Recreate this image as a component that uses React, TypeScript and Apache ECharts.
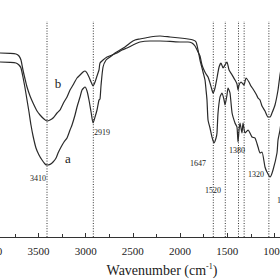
import React, { useEffect, useRef } from "react";
import * as echarts from "echarts";

// Wavenumber (cm-1) and transmittance (a.u.)
const WN_B = [4099, 3908, 3802, 3739, 3707, 3686, 3665, 3643, 3622, 3590, 3558, 3516, 3484, 3442, 3410, 3378, 3346, 3304, 3272, 3230, 3198, 3166, 3134, 3092, 3060, 3028, 3007, 2986, 2965, 2943, 2922, 2901, 2880, 2859, 2848, 2816, 2774, 2721, 2668, 2615, 2562, 2498, 2424, 2318, 2212, 2106, 2000, 1915, 1873, 1841, 1809, 1788, 1767, 1746, 1724, 1703, 1682, 1661, 1650, 1629, 1608, 1586, 1565, 1544, 1523, 1502, 1480, 1448, 1417, 1396, 1385, 1374, 1353, 1332, 1321, 1300, 1269, 1248, 1226, 1194, 1173, 1152, 1131, 1099, 1067, 1046, 1025, 993, 961, 940, 897];
const T_B = [92, 92, 91.8, 91.5, 90.5, 88.5, 83.5, 79, 75, 70.5, 67, 63, 61, 59, 58, 58.5, 59.5, 62, 63.5, 67.5, 70, 73.5, 76, 79.5, 81, 82.5, 83, 82, 80, 77.5, 75.5, 77.5, 80.5, 83.5, 87, 88.5, 90, 91, 92, 93.5, 94.5, 96, 97.5, 98, 98, 97.8, 97.5, 97.5, 97, 95.5, 92.5, 90.5, 86, 83.5, 81.5, 80, 77, 73.5, 72, 74.5, 79.5, 85, 87, 84.5, 86, 87.5, 83.5, 81, 78.5, 76.5, 73.5, 76, 77.5, 76.5, 76, 79.5, 77.5, 75.5, 74, 71.5, 69.5, 68.5, 65.5, 63, 60, 60, 62, 66, 73.5, 81, 93.5];

const WN_A = [4099, 3908, 3802, 3739, 3707, 3686, 3665, 3643, 3622, 3601, 3580, 3558, 3527, 3495, 3463, 3431, 3410, 3378, 3346, 3314, 3293, 3261, 3230, 3198, 3166, 3145, 3113, 3092, 3060, 3039, 3007, 2986, 2965, 2943, 2922, 2901, 2880, 2859, 2848, 2837, 2816, 2784, 2742, 2689, 2636, 2583, 2530, 2477, 2424, 2318, 2212, 2106, 2000, 1915, 1862, 1830, 1809, 1788, 1756, 1735, 1724, 1714, 1703, 1682, 1661, 1640, 1618, 1608, 1597, 1576, 1555, 1533, 1523, 1502, 1491, 1470, 1448, 1417, 1396, 1385, 1374, 1364, 1343, 1332, 1311, 1279, 1237, 1205, 1173, 1152, 1131, 1099, 1078, 1046, 1014, 972, 961, 940, 897];
const T_A = [87.5, 87.5, 87.3, 87, 86, 84.5, 80, 74.5, 68.5, 62.5, 56, 50.5, 44.5, 41, 38.5, 36.5, 36, 36.3, 37.5, 39.5, 42, 45, 47.5, 49.5, 53.5, 56, 61, 65, 70, 73.5, 75, 73, 68.5, 62.5, 57, 60, 63.5, 68.5, 69, 76, 85, 88.5, 90, 92, 93.5, 95, 97, 98.5, 99, 100, 100.5, 100, 99.5, 99, 98.5, 97.5, 93.5, 88.5, 82.5, 78.5, 73.5, 68.5, 58.5, 54.5, 50, 47, 49.5, 52, 62, 70, 72, 68.5, 66, 71, 74.5, 72, 62, 57, 55, 47.5, 53.5, 57, 52, 57, 52, 53.5, 50, 49.5, 45, 42, 42.5, 35, 32.5, 30, 33.5, 42, 48.5, 53.5, 68.5];

const PEAKS = [3410, 2919, 1647, 1520, 1380, 1320, 1058];
const PEAK_TOP = 108;
const TICKS = { min: 500, max: 4500, step: 500 };

const SERIF = "Liberation Serif, Times New Roman, DejaVu Serif, serif";
const INK = "#2a2a2a";

export default function App() {
  const ref = useRef<HTMLDivElement>(null);
  useEffect(() => {
    if (!ref.current) return;
    const chart = echarts.init(ref.current, null, { renderer: "svg" });
    const curve = (name: string, wn: number[], t: number[]) => ({
      name,
      type: "line",
      data: wn.map((w, i) => [w, t[i]]),
      showSymbol: false,
      smooth: 0.2,
      lineStyle: { color: INK, width: 1.2 },
      z: 3,
    });
    const markers = PEAKS.map((p) => ({
      type: "line",
      data: [[p, 0], [p, PEAK_TOP]],
      showSymbol: false,
      lineStyle: { color: "#333", width: 1, type: [1, 1.6] },
      z: 2,
    }));
    const txt = (text: string, x: number, y: number, size: number, align = "center") => ({
      type: "text",
      x,
      y,
      style: { text, fontSize: size, fontFamily: SERIF, fill: "#222", align, verticalAlign: "middle" },
      z: 10,
    });
    chart.setOption({
      animation: false,
      backgroundColor: "#fff",
      textStyle: { fontFamily: SERIF },
      grid: { left: -55.8, right: -41.5, top: 0, bottom: 43, containLabel: false, outerBoundsMode: "none" },
      xAxis: {
        type: "value",
        min: TICKS.min,
        max: TICKS.max,
        interval: TICKS.step,
        inverse: true,
        axisLine: { lineStyle: { color: "#333", width: 1.2 } },
        axisTick: { inside: true, length: 4, lineStyle: { color: "#333" } },
        minorTick: { show: true, splitNumber: 2, length: 3, lineStyle: { color: "#333" } },
        splitLine: { show: false },
        axisLabel: {
          fontSize: 11,
          fontFamily: SERIF,
          color: "#222",
          margin: 8,
          formatter: (v: number) => String(v),
        },
      },
      yAxis: { type: "value", min: 0, max: 118.5, show: false },
      series: [curve("a", WN_A, T_A), curve("b", WN_B, T_B), ...markers],
      graphic: [
        txt("3410", 38, 178, 8),
        txt("2919", 102, 132, 8),
        txt("1647", 198, 163, 8),
        txt("1520", 213, 190, 8),
        txt("1380", 237, 150, 8),
        txt("1320", 256, 174, 8),
        txt("1058", 277, 200, 8, "left"),
        txt("a", 68, 158, 13),
        txt("b", 58, 83, 13),
        {
          type: "text",
          x: 162,
          y: 270,
          style: {
            text: "{m|Wavenumber (cm}{s|-1}{m|)}",
            align: "center",
            verticalAlign: "middle",
            fill: "#222",
            fontFamily: SERIF,
            rich: {
              m: { fontSize: 14, fontFamily: SERIF, fill: "#222", lineHeight: 16 },
              s: { fontSize: 8, fontFamily: SERIF, fill: "#222", verticalAlign: "top", lineHeight: 16 },
            },
          },
          z: 10,
        },
      ],
    });
    return () => chart.dispose();
  }, []);
  return (
    <div
      ref={ref}
      style={{ position: "fixed", left: 0, top: 0, width: 280, height: 280, background: "#fff" }}
    />
  );
}
